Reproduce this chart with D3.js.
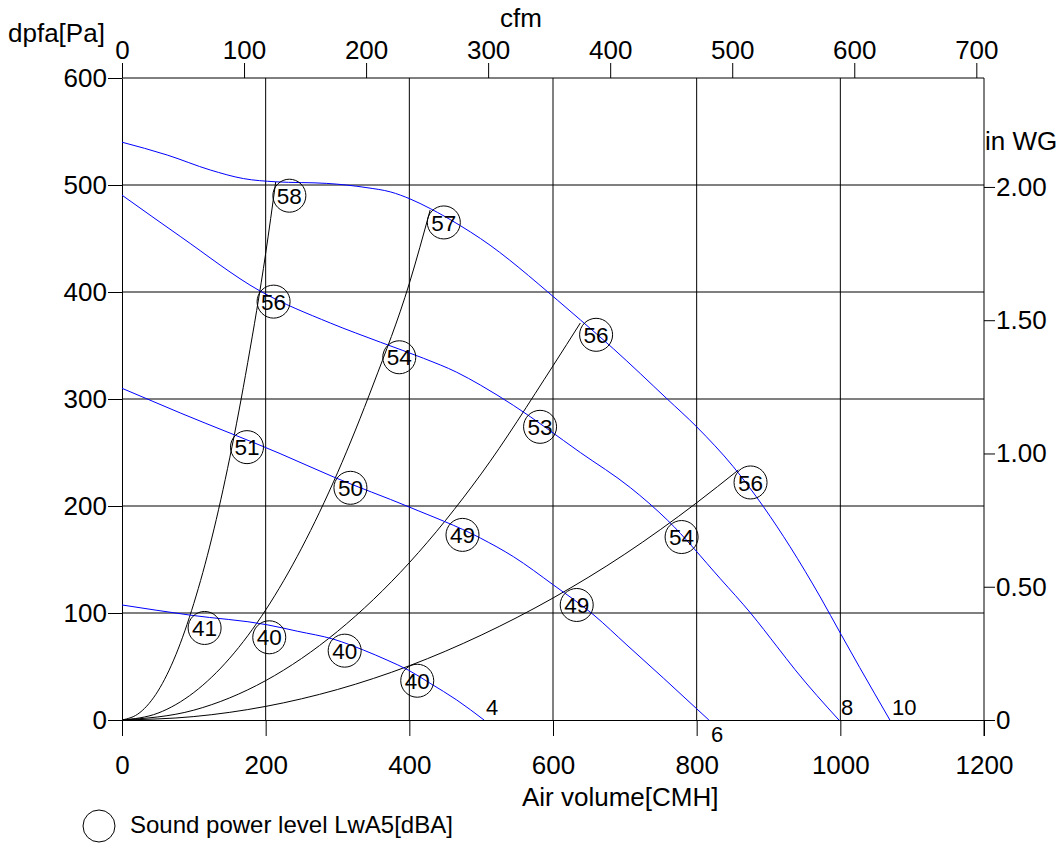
<!DOCTYPE html>
<html>
<head>
<meta charset="utf-8">
<script src="https://cdn.jsdelivr.net/npm/d3@7"></script>
<style>
  body { margin: 0; background: #fff; }
  text { font-family: "Liberation Sans", Arial, sans-serif; fill: #000; }
</style>
</head>
<body>
<svg width="1061" height="843"></svg>
<script>
// fan curves, [CMH, Pa]
var speedLabels = ["4", "6", "8", "10"];
var fan4 = [[0,107.5],[95,98],[202,89],[244,83],[295,75.4],[336,65.4],[369,56],[399,46.5],[429,34.3],[466,18.7],[504,0]];
var fan6 = [[0,310],[81,287],[220,249],[295,227],[400,199],[499,170],[545,152.6],[601,126],[657,98],[703,70],[754,39],[800,10.5],[817,0]];
var fan8 = [[0,490.5],[81,452],[192,401],[290,371],[360,353],[420,338],[466,325],[499,313],[545,294],[638,250],[708,217],[759,187],[833,132],[875,100],[912,68.5],[937,47],[998,0]];
var fan10 = [[0,540],[63,528],[123,514],[169,506],[214,503],[285,501.5],[341,497.5],[374,493.5],[401,487],[429,478],[471,462],[499,450],[606,392.5],[638,374],[684,347],[759,300],[800,274],[851,236.7],[893,199.3],[930,162],[972,115],[1001,80],[1027,49],[1069,0]];

// system curves (black)
var sysA = [[0,0],[25,7],[50,27],[75,61],[100,109],[125,170],[150,245],[175,334],[200,436],[214,503]];
var sysB = [[0,0],[50,6.4],[100,25.7],[150,57.8],[200,102.8],[250,160.6],[300,231],[350,314],[400,408],[429,476.6]];
var sysC = [[0,0],[100,9.2],[200,36.8],[300,82.8],[400,147],[500,230],[600,331],[638,371]];
var sysD = [[0,0],[100,3.2],[200,12.7],[300,28.5],[400,50.7],[500,79.3],[600,114],[700,155],[800,203],[858,233.6]];

// sound power level bubbles [CMH, Pa, dBA]
var soundLevels = [
  [233,490,"58"],[448,465,"57"],[660,360,"56"],[875,222,"56"],
  [211,391,"56"],[386,339,"54"],[582,274,"53"],[779,171,"54"],
  [174,255,"51"],[318,217,"50"],[474,173,"49"],[633,107.5,"49"],
  [115,86,"41"],[205,77.3,"40"],[310,64.8,"40"],[411,36.7,"40"]
];

var airTicks = [0,200,400,600,800,1000,1200];
var paTicks = [0,100,200,300,400,500,600];
var cfmTicks = [0,100,200,300,400,500,600,700];
var wgTicks = [0,0.5,1,1.5,2];

var CMH_PER_CFM = 1.699, PA_PER_INWG = 249.09;

var svg = d3.select("svg");

var x = d3.scaleLinear().domain([0,1200]).range([122,984]);
var y = d3.scaleLinear().domain([0,600]).range([720,78]);
var xCfm = d3.scaleLinear().domain([0,1200/CMH_PER_CFM]).range([122,984]);
var yWg = d3.scaleLinear().domain([0,600/PA_PER_INWG]).range([720,78]);

// grid
svg.append("g").selectAll("line").data(airTicks.slice(1, -1)).enter().append("line")
  .attr("x1", d => x(d)).attr("x2", d => x(d)).attr("y1", y(0)).attr("y2", y(600))
  .style("stroke", "#000").style("stroke-width", 1);
svg.append("g").selectAll("line").data(paTicks.slice(1, -1)).enter().append("line")
  .attr("x1", x(0)).attr("x2", x(1200)).attr("y1", d => y(d)).attr("y2", d => y(d))
  .style("stroke", "#000").style("stroke-width", 1);

// axes
var fs = "26px";
var axBottom = svg.append("g").attr("transform", "translate(0," + y(0) + ")")
  .call(d3.axisBottom(x).tickValues(airTicks).tickSize(16).tickSizeOuter(0).tickPadding(20).tickFormat(d3.format("d")));
var axLeft = svg.append("g").attr("transform", "translate(" + x(0) + ",0)")
  .call(d3.axisLeft(y).tickValues(paTicks).tickSize(14).tickSizeOuter(0).tickPadding(1).tickFormat(d3.format("d")));
var axTop = svg.append("g").attr("transform", "translate(0," + y(600) + ")")
  .call(d3.axisTop(xCfm).tickValues(cfmTicks).tickSize(15).tickSizeOuter(0).tickPadding(4).tickFormat(d3.format("d")));
var axRight = svg.append("g").attr("transform", "translate(" + x(1200) + ",0)")
  .call(d3.axisRight(yWg).tickValues(wgTicks).tickSize(11).tickSizeOuter(0).tickPadding(1)
    .tickFormat(d => d === 0 ? "0" : d3.format(".2f")(d)));

[axBottom, axLeft, axTop, axRight].forEach(function(g) {
  g.select(".domain").style("stroke", "#000");
  g.selectAll(".tick line").style("stroke", "#000");
  g.selectAll("text").style("font-size", fs).style("font-family", "Liberation Sans, Arial, sans-serif").style("fill", "#000");
});
axTop.select(".domain").attr("d", "M" + x(0) + ",0H" + x(1200));
axRight.select(".domain").attr("d", "M0," + y(0) + "V" + y(600));
axRight.append("line").attr("x1", 0).attr("x2", 0).attr("y1", y(0)).attr("y2", y(0) + 16).style("stroke", "#000");

// axis titles
svg.append("text").attr("x", 8).attr("y", 42).style("font-size", fs).text("dpfa[Pa]");
svg.append("text").attr("x", 521).attr("y", 27).attr("text-anchor", "middle").style("font-size", fs).text("cfm");
svg.append("text").attr("x", 985).attr("y", 150).style("font-size", fs).text("in WG");
svg.append("text").attr("x", 522).attr("y", 806).style("font-size", fs).text("Air volume[CMH]");

// curves
var line = d3.line().x(d => x(d[0])).y(d => y(d[1])).curve(d3.curveMonotoneX);
[sysA, sysB, sysC, sysD].forEach(function(s) {
  svg.append("path").datum(s).attr("d", line)
    .style("fill", "none").style("stroke", "#000").style("stroke-width", 1);
});
var fans = [fan4, fan6, fan8, fan10];
fans.forEach(function(s) {
  svg.append("path").datum(s).attr("d", line)
    .style("fill", "none").style("stroke", "#0000ff").style("stroke-width", 1);
});

// speed labels at curve ends
fans.forEach(function(s, i) {
  var end = s[s.length - 1];
  var below = speedLabels[i] === "6";
  svg.append("text")
    .attr("x", x(end[0]) + 2)
    .attr("y", below ? y(0) + 22 : y(0) - 5)
    .style("font-size", "22px")
    .text(speedLabels[i]);
});

// sound bubbles
var bub = svg.append("g").selectAll("g").data(soundLevels).enter().append("g")
  .attr("transform", d => "translate(" + x(d[0]) + "," + y(d[1]) + ")");
bub.append("circle").attr("r", 16.5)
  .style("fill", "none").style("stroke", "#000").style("stroke-width", 1);
bub.append("text").attr("text-anchor", "middle").attr("dy", "0.36em")
  .style("font-size", "22.5px").text(d => d[2]);

// legend
svg.append("circle").attr("cx", 99).attr("cy", 826).attr("r", 16)
  .style("fill", "none").style("stroke", "#000").style("stroke-width", 1);
svg.append("text").attr("x", 130).attr("y", 833).style("font-size", "24px")
  .text("Sound power level LwA5[dBA]");
</script>
</body>
</html>
